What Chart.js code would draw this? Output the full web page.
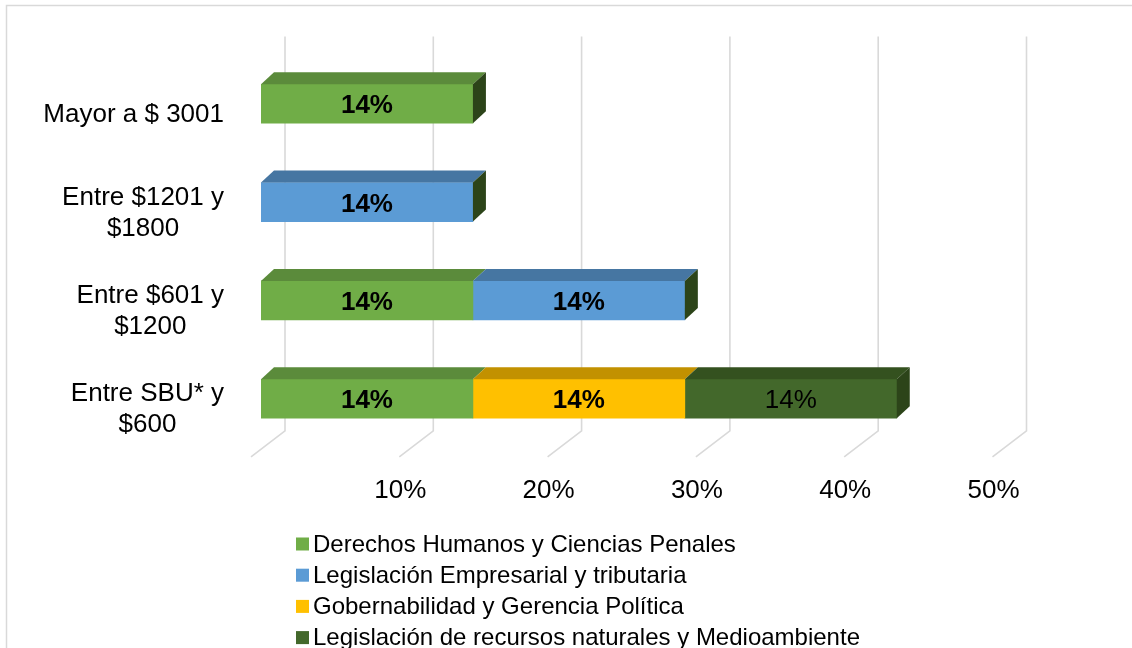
<!DOCTYPE html>
<html>
<head>
<meta charset="utf-8">
<script src="https://cdn.jsdelivr.net/npm/chart.js@4"></script>
<style>
  body { margin: 0; background: #fff; }
  canvas { display: block; }
</style>
</head>
<body>
<canvas id="ingresosChart" width="1132" height="648"></canvas>
<script>
// Data
const categories = [['Mayor a $ 3001'], ['Entre $1201 y', '$1800'], ['Entre $601 y', '$1200'], ['Entre SBU* y', '$600']];
const derechosHumanos = [14.29, null, 14.29, 14.29];
const legEmpresarial = [null, 14.29, 14.29, null];
const gobernabilidad = [null, null, null, 14.29];
const recursosNaturales = [null, null, null, 14.29];
const tickLabels = ['', '10%', '20%', '30%', '40%', '50%'];

const FONT = 'Arial, "Liberation Sans", sans-serif';
const frontColors = ['#70AD47', '#5B9BD5', '#FFC000', '#43682B'];
const topColors = ['#5B8B3B', '#4676A2', '#C29100', '#34511F'];
const sideColor = '#2C4419';

// grid "wall" + "floor" and 3D faces drawn around the library's bars
const pseudo3d = {
    id: 'pseudo3d',
    beforeDraw(chart) {
        const c = chart.ctx;
        c.save();
        c.strokeStyle = '#d9d9d9';
        c.lineWidth = 1.5;
        c.strokeRect(6.5, 5.5, 1150, 680);
        c.restore();
    },
    beforeDatasetsDraw(chart) {
        const c = chart.ctx, xs = chart.scales.x, area = chart.chartArea;
        const top = area.top - 18, wallBottom = area.bottom - 17;
        c.save();
        c.strokeStyle = '#d9d9d9';
        c.lineWidth = 1.6;
        xs.ticks.forEach(t => {
            const px = xs.getPixelForValue(t.value);
            const bx = px + 24;
            c.beginPath();
            c.moveTo(bx, top);
            c.lineTo(bx, wallBottom);
            c.lineTo(bx - 34, wallBottom + 26);
            c.stroke();
        });
        c.restore();
    },
    afterDatasetsDraw(chart) {
        const c = chart.ctx;
        const dx = 13, dy = 12;
        const n = chart.data.labels.length;
        const lastDs = [];
        for (let i = 0; i < n; i++) {
            chart.data.datasets.forEach((ds, d) => { if (ds.data[i] != null) lastDs[i] = d; });
        }
        c.save();
        chart.data.datasets.forEach((ds, d) => {
            const meta = chart.getDatasetMeta(d);
            meta.data.forEach((el, i) => {
                if (ds.data[i] == null) return;
                const p = el.getProps(['x', 'y', 'base', 'height'], true);
                const t = p.y - p.height / 2, b = p.y + p.height / 2;
                c.fillStyle = topColors[d];
                c.beginPath();
                c.moveTo(p.base, t);
                c.lineTo(p.x, t);
                c.lineTo(p.x + dx, t - dy);
                c.lineTo(p.base + dx, t - dy);
                c.closePath();
                c.fill();
                if (lastDs[i] === d) {
                    c.fillStyle = sideColor;
                    c.beginPath();
                    c.moveTo(p.x, t);
                    c.lineTo(p.x + dx, t - dy);
                    c.lineTo(p.x + dx, b - dy);
                    c.lineTo(p.x, b);
                    c.closePath();
                    c.fill();
                }
            });
        });
        // value labels
        c.textAlign = 'center';
        c.textBaseline = 'middle';
        c.fillStyle = '#000';
        chart.data.datasets.forEach((ds, d) => {
            const meta = chart.getDatasetMeta(d);
            c.font = (d === 3 ? '' : 'bold ') + '26px ' + FONT;
            meta.data.forEach((el, i) => {
                if (ds.data[i] == null) return;
                const p = el.getProps(['x', 'y', 'base'], true);
                c.fillText(Math.round(ds.data[i]) + '%', (p.x + p.base) / 2, p.y + 2.5);
            });
        });
        // category labels: right-aligned block, lines centred
        const ys = chart.scales.y;
        c.font = '26px ' + FONT;
        const right = 224, lh = 31;
        chart.data.labels.forEach((lab, i) => {
            const lines = Array.isArray(lab) ? lab : [lab];
            const w = Math.max(...lines.map(s => c.measureText(s).width));
            const cx = right - w / 2;
            const cy = ys.getPixelForValue(i) + 11;
            lines.forEach((s, k) => {
                c.fillText(s, cx, cy + (k - (lines.length - 1) / 2) * lh);
            });
        });
        // legend, one entry per row
        c.textAlign = 'left';
        c.font = '24px ' + FONT;
        chart.data.datasets.forEach((ds, d) => {
            const y = 544 + d * 31.2;
            c.fillStyle = ds.backgroundColor;
            c.fillRect(296, y - 6.5, 13, 13);
            c.fillStyle = '#000';
            c.fillText(ds.label, 313, y + 1);
        });
        c.restore();
    }
};

const ctx = document.getElementById('ingresosChart').getContext('2d');
const ingresosChart = new Chart(ctx, {
    type: 'bar',
    data: {
        labels: categories,
        datasets: [
            { label: 'Derechos Humanos y Ciencias Penales', data: derechosHumanos, backgroundColor: frontColors[0] },
            { label: 'Legislación Empresarial y tributaria', data: legEmpresarial, backgroundColor: frontColors[1] },
            { label: 'Gobernabilidad y Gerencia Política', data: gobernabilidad, backgroundColor: frontColors[2] },
            { label: 'Legislación de recursos naturales y Medioambiente', data: recursosNaturales, backgroundColor: frontColors[3] }
        ]
    },
    options: {
        indexAxis: 'y',
        responsive: false,
        animation: false,
        barThickness: 39,
        layout: {
            padding: { left: 261, right: 129.5, top: 54.6, bottom: 114.3 }
        },
        plugins: {
            legend: { display: false },
            tooltip: { enabled: false }
        },
        scales: {
            x: {
                stacked: true,
                min: 0,
                max: 50,
                grid: { display: false, drawTicks: false },
                border: { display: false },
                ticks: {
                    stepSize: 10,
                    padding: 27.3,
                    labelOffset: -9,
                    color: '#000',
                    font: { family: FONT, size: 26 },
                    callback: (v, i) => tickLabels[i]
                }
            },
            y: {
                stacked: true,
                display: false
            }
        }
    },
    plugins: [pseudo3d]
});
</script>
</body>
</html>
